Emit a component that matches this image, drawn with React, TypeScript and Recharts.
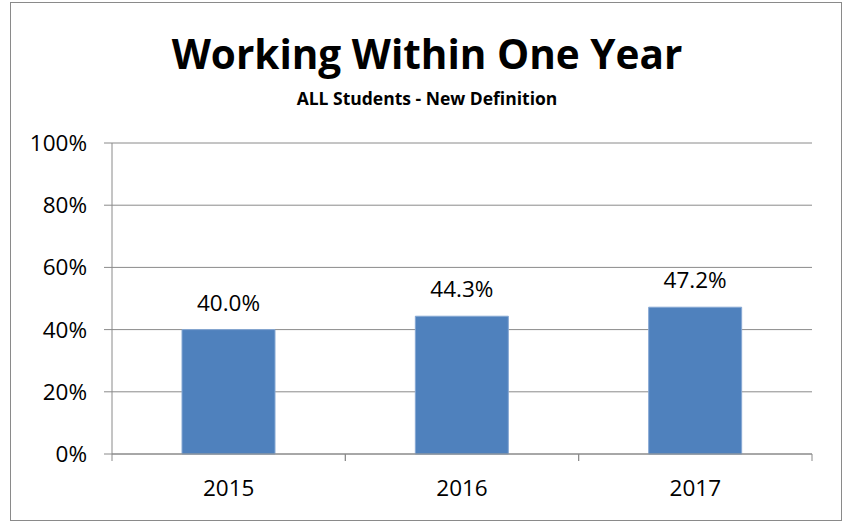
import { BarChart, Bar, XAxis, YAxis, CartesianGrid, LabelList } from 'recharts';

const years = ['2015', '2016', '2017'];
const working = [0.4, 0.443, 0.472];
const yTicks = [0, 0.2, 0.4, 0.6, 0.8, 1];

const data = years.map((year, i) => ({ year, value: working[i] }));

const GRAY = '#8a8a8a';
const FONT = '"Open Sans", sans-serif';

// category label plus the Excel-style tick marks on the band edges
function YearTick(props: any) {
  const { x, y, payload } = props;
  const half = payload && payload.offset ? payload.offset : 116.7;
  const axisY = y - 26;
  return (
    <g>
      <line x1={x - half} x2={x - half} y1={axisY} y2={axisY + 7} stroke={GRAY} />
      <line x1={x + half} x2={x + half} y1={axisY} y2={axisY + 7} stroke={GRAY} />
      <text x={x} y={y} dy="0.71em" textAnchor="middle" fill="#000" fontSize={22.5} fontFamily={FONT}>
        {payload.value}
      </text>
    </g>
  );
}

export default function App() {
  return (
    <div style={{ position: 'absolute', left: 0, top: 0, width: 846, height: 521, background: '#fff', fontFamily: FONT }}>
      <div
        style={{
          position: 'absolute',
          left: 10,
          top: 2,
          width: 832,
          height: 519,
          border: `1px solid ${GRAY}`,
          boxSizing: 'border-box',
        }}
      />
      <div
        style={{
          position: 'absolute',
          top: 28,
          left: 0,
          width: 854,
          textAlign: 'center',
          fontSize: 40.5,
          fontWeight: 700,
          lineHeight: '52px',
          color: '#000',
        }}
      >
        Working Within One Year
      </div>
      <div
        style={{
          position: 'absolute',
          top: 87,
          left: 0,
          width: 854,
          textAlign: 'center',
          fontSize: 17.5,
          fontWeight: 700,
          lineHeight: '22px',
          color: '#000',
        }}
      >
        ALL Students - New Definition
      </div>
      <div style={{ position: 'absolute', left: 0, top: 0 }}>
        <BarChart
          width={846}
          height={521}
          data={data}
          margin={{ top: 143, right: 34, bottom: 0, left: 0 }}
          barCategoryGap="30%"
        >
          <CartesianGrid vertical={false} stroke={GRAY} strokeDasharray="" />
          <XAxis
            dataKey="year"
            height={67}
            axisLine={{ stroke: GRAY }}
            tickLine={false}
            tickSize={0}
            tickMargin={26}
            tick={<YearTick />}
            interval={0}
          />
          <YAxis
            width={112}
            domain={[0, 1]}
            ticks={yTicks}
            interval={0}
            tickFormatter={(v: number) => `${Math.round(v * 100)}%`}
            axisLine={{ stroke: GRAY }}
            tickLine={{ stroke: GRAY }}
            tickSize={8}
            tickMargin={17}
            tick={{ fill: '#000', fontSize: 22.5, fontFamily: FONT }}
          />
          <Bar dataKey="value" fill="#4F81BD" stroke="#86a8d3" strokeWidth={1} isAnimationActive={false}>
            <LabelList
              dataKey="value"
              position="top"
              offset={19}
              formatter={(v: any) => `${(Number(v) * 100).toFixed(1)}%`}
              style={{ fill: '#000', fontSize: 22.5, fontFamily: FONT }}
            />
          </Bar>
        </BarChart>
      </div>
    </div>
  );
}
